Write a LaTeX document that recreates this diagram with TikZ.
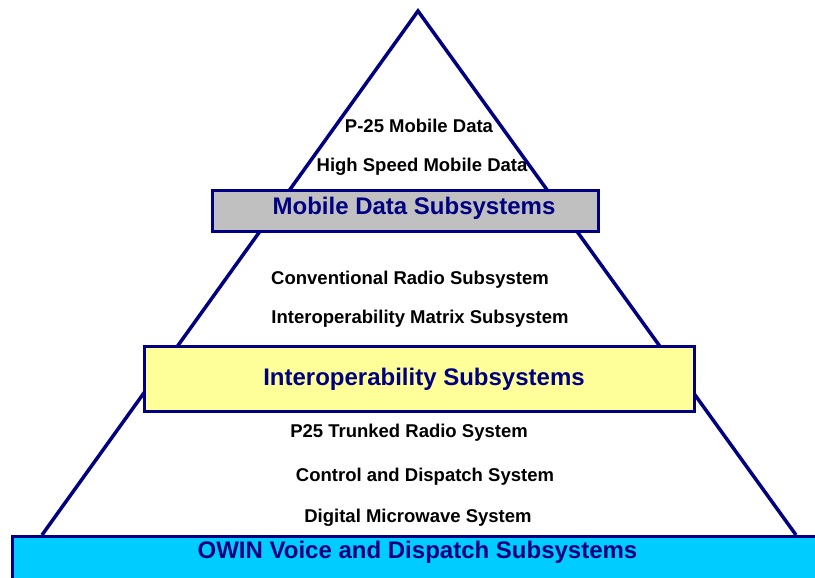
\documentclass[tikz,border=0pt]{standalone}
\usepackage{fontspec}
\setmainfont{Liberation Sans}
\definecolor{navy}{RGB}{0,0,128}
\definecolor{boxgray}{RGB}{192,192,192}
\definecolor{boxyellow}{RGB}{255,255,153}
\definecolor{boxcyan}{RGB}{0,204,255}
\begin{document}
\begin{tikzpicture}[x=1pt,y=-1pt,
  item/.style={font=\fontsize{18.5}{20}\selectfont\bfseries, text=black, inner sep=0pt},
  head/.style={font=\fontsize{24}{26}\selectfont\bfseries, text=navy, inner sep=0pt},
  band/.style={draw=navy, line width=3pt}]
\useasboundingbox (0,0) rectangle (815,578);
\coordinate (apex) at (418,11);
\coordinate (bl) at (42,535);
\coordinate (br) at (796,535);
\draw[navy, line width=3.5pt, line join=miter] (bl) -- (apex) -- (br);
% bands
\node[band, fill=boxgray, minimum width=386pt, minimum height=41pt, anchor=north west] (mob) at (211,189) {};
\node[head] (mobt) at (414,208) {Mobile Data Subsystems};
\node[band, fill=boxyellow, minimum width=550pt, minimum height=65pt, anchor=north west] (int) at (143,345) {};
\node[head] (intt) at (424,379) {Interoperability Subsystems};
\node[band, fill=boxcyan, minimum width=830pt, minimum height=70pt, anchor=north west] (owin) at (11,535) {};
\node[head] (owint) at (417.5,552) {OWIN Voice and Dispatch Subsystems};
% items
\node[item] (p25) at (419,126) {P-25 Mobile Data};
\node[item] (hs) at (422,167) {High Speed Mobile Data};
\node[item] (conv) at (410,280) {Conventional Radio Subsystem};
\node[item] (iom) at (420,319) {Interoperability Matrix Subsystem};
\node[item] (trk) at (409,433) {P25 Trunked Radio System};
\node[item] (cds) at (425,477) {Control and Dispatch System};
\node[item] (dms) at (418,518) {Digital Microwave System};
\end{tikzpicture}
\end{document}
